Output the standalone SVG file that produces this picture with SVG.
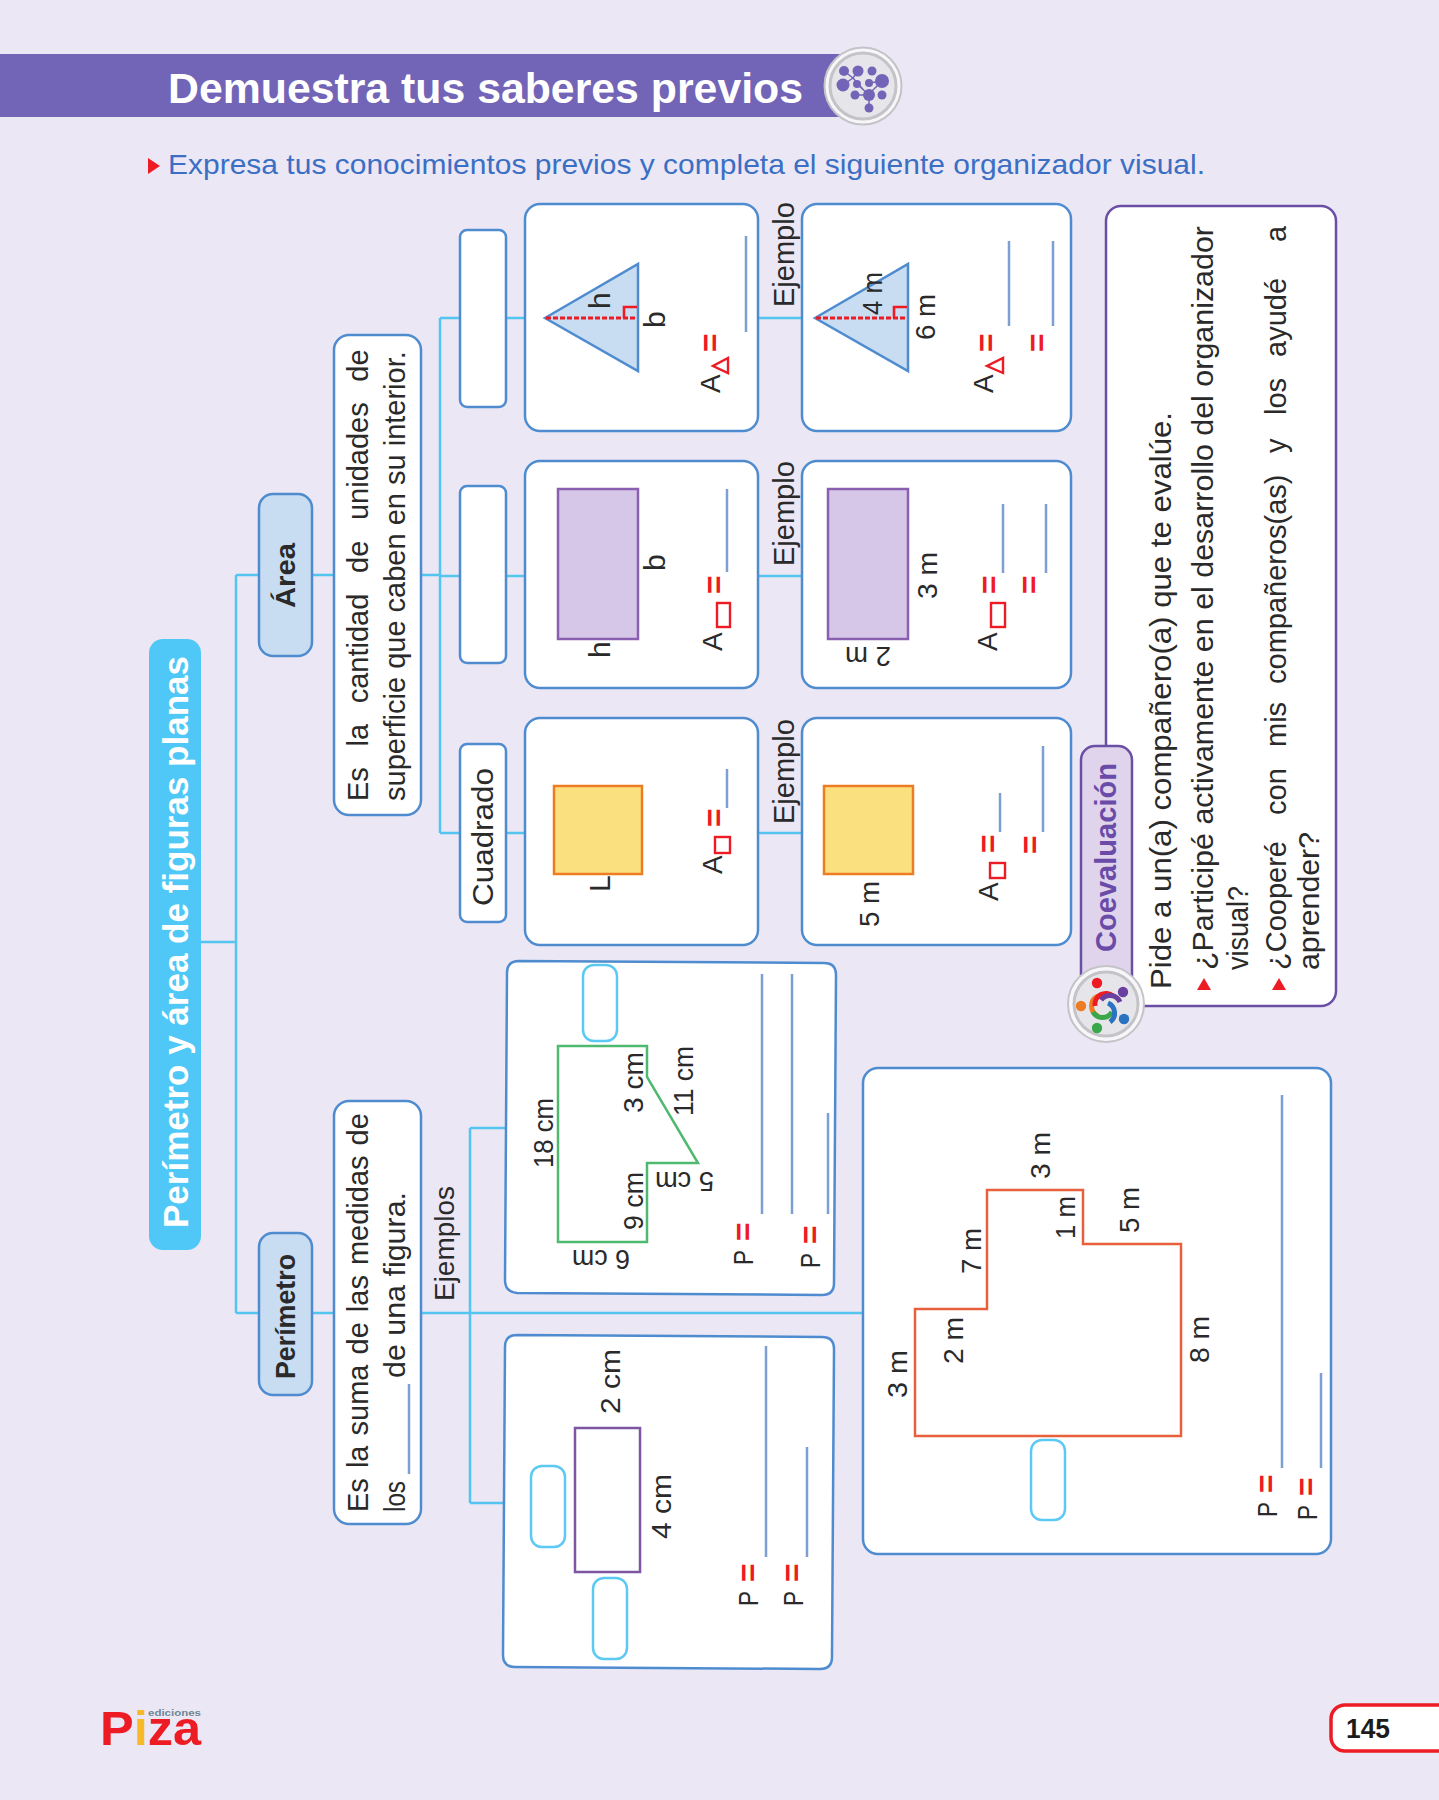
<svg xmlns="http://www.w3.org/2000/svg" width="1439" height="1800" viewBox="0 0 1439 1800">
<style>
text{font-family:"Liberation Sans",Arial,sans-serif;fill:#2a2a2a}
.b{font-size:29px}
.l{font-size:28px}
.v{font-size:30px}
.a{font-size:28px}
.eq{font-size:32px;font-weight:bold;fill:#ed1c24}
.box{fill:#fff;stroke:#4f8ccf;stroke-width:2.5}
.cy{fill:#fff;stroke:#5cc9f5;stroke-width:2.5}
.head{fill:#c9ddf2;stroke:#4f8ccf;stroke-width:2.5}
.con{fill:none;stroke:#54c4f0;stroke-width:2.5}
.bl{fill:none;stroke:#7e9fd1;stroke-width:2.5}
.rs{fill:#fff;stroke:#ed1c24;stroke-width:2.4}
.pu{stroke:#6a4fa5;stroke-width:2.5}
.ra{fill:none;stroke:#ed1c24;stroke-width:2.6}
.da{fill:none;stroke:#ed1c24;stroke-width:3;stroke-dasharray:5 2}
.tri{fill:#c9ddf2;stroke:#4f8ccf;stroke-width:2.5;stroke-linejoin:miter}
.rc{fill:#d6c7e8;stroke:#8b5fb0;stroke-width:2.5}
.sq{fill:#fbe07f;stroke:#ee7c22;stroke-width:2.5}
.ic{fill:#7464b8}
</style>
<rect width="1439" height="1800" fill="#ebe7f5"/>

<g id="header">
<rect x="0" y="54" width="850" height="63" fill="#7264b6"/>
<text x="168" y="103" font-size="43" font-weight="bold" textLength="635" lengthAdjust="spacingAndGlyphs" style="fill:#fff">Demuestra tus saberes previos</text>
<circle cx="863" cy="86" r="38.5" fill="#f7f7f9" stroke="#c4c4c8" stroke-width="2"/>
<circle cx="863" cy="86" r="33" fill="#e6e6ea" stroke="#c4c4c8" stroke-width="3"/>
<path d="M844 71L853 78L858 71M843 85L853 78L868 95L882 81M857 84L869 95V108M869 83L882 81M855 95L869 95" fill="none" stroke="#7464b8" stroke-width="1.5"/>
<g class="ic">
<circle cx="844" cy="71" r="5"/><circle cx="858" cy="71" r="5.5"/><circle cx="872" cy="71" r="4.5"/>
<circle cx="843" cy="85" r="6.5"/><circle cx="857" cy="84" r="4"/><circle cx="869" cy="83" r="4"/><circle cx="882" cy="81" r="7"/>
<circle cx="855" cy="95" r="4.5"/><circle cx="869" cy="95" r="6"/><circle cx="882" cy="95" r="4.5"/><circle cx="869" cy="108" r="4.5"/>
</g>
</g>

<g id="instruction">
<polygon points="148,158 160,166 148,174" fill="#ed1c24"/>
<text x="168" y="174" font-size="28" textLength="1037" lengthAdjust="spacingAndGlyphs" style="fill:#3a6fc4">Expresa tus conocimientos previos y completa el siguiente organizador visual.</text>
</g>

<g id="connectors">
<path class="con" d="M201 942H236M236 575V1313M236 575H259M312 575H334M421 575H440M440 318V833M440 318H460M506 318H525M758 318H802M440 576H460M506 576H525M758 576H802M440 833H460M506 833H525M758 833H802M236 1313H259M312 1313H334M421 1313H863M470 1128V1503M470 1128H506M470 1503H504"/>
</g>

<g id="main">
<rect x="149" y="639" width="52" height="611" rx="14" fill="#4fc8f7"/>
<text transform="translate(188,1228) rotate(-90)" font-size="35" font-weight="bold" textLength="572" lengthAdjust="spacingAndGlyphs" style="fill:#fff">Perímetro y área de figuras planas</text>
</g>

<g id="area">
<rect class="head" x="259" y="494" width="53" height="162" rx="14"/>
<text transform="translate(295,608) rotate(-90)" font-size="28" font-weight="bold" textLength="65" lengthAdjust="spacingAndGlyphs">Área</text>
</g>
<g id="area-def">
<rect class="box" x="334" y="335" width="87" height="480" rx="15"/>
<text class="b" transform="translate(368,801) rotate(-90)" word-spacing="12.6">Es la cantidad de unidades de</text>
<text class="b" transform="translate(405,801) rotate(-90)">superficie que caben en su interior.</text>
</g>

<g id="perimetro">
<rect class="head" x="259" y="1233" width="53" height="162" rx="14"/>
<text transform="translate(295,1379) rotate(-90)" font-size="27" font-weight="bold" textLength="125" lengthAdjust="spacingAndGlyphs">Perímetro</text>
</g>
<g id="perimetro-def">
<rect class="box" x="334" y="1101" width="87" height="423" rx="15"/>
<text class="b" transform="translate(368,1512) rotate(-90)" word-spacing="2">Es la suma de las medidas de</text>
<text class="b" transform="translate(405,1512) rotate(-90)" textLength="31" lengthAdjust="spacingAndGlyphs">los</text>
<path class="bl" d="M409 1474V1384"/>
<text class="b" transform="translate(405,1378) rotate(-90)" textLength="186" lengthAdjust="spacingAndGlyphs">de una figura.</text>
</g>
<g id="ejemplos-label">
<text transform="translate(454,1301) rotate(-90)" font-size="28" textLength="115" lengthAdjust="spacingAndGlyphs">Ejemplos</text>
</g>

<g id="tri-name"><rect class="box" x="460" y="230" width="46" height="177" rx="7"/></g>
<g id="rect-name"><rect class="box" x="460" y="486" width="46" height="177" rx="7"/></g>
<g id="sq-name"><rect class="box" x="460" y="744" width="46" height="178" rx="7"/>
<text transform="translate(493,906) rotate(-90)" font-size="30" textLength="138" lengthAdjust="spacingAndGlyphs">Cuadrado</text></g>

<g id="tri-formula">
<rect class="box" x="525" y="204" width="233" height="227" rx="15"/>
<polygon class="tri" points="545,318 638,264 638,371"/>
<path class="da" d="M546 318H637"/><path class="ra" d="M637 307H624V318"/>
<text class="v" transform="translate(610,309) rotate(-90)">h</text>
<text class="v" transform="translate(665,328) rotate(-90)">b</text>
<text class="a" transform="translate(720,393) rotate(-90)">A</text>
<polygon class="rs" points="728,358 728,373 713,366"/>
<text class="eq" transform="translate(721,352) rotate(-90)">=</text>
<path class="bl" d="M746 236V332"/>
</g>
<g id="tri-example">
<text class="b" transform="translate(794,307) rotate(-90)">Ejemplo</text>
<rect class="box" x="802" y="204" width="269" height="227" rx="15"/>
<polygon class="tri" points="815,318 908,264 908,371"/>
<path class="da" d="M816 318H907"/><path class="ra" d="M907 307H894V318"/>
<text class="l" transform="translate(882,315) rotate(-90)" textLength="43" lengthAdjust="spacingAndGlyphs">4 m</text>
<text class="l" transform="translate(935,340) rotate(-90)" textLength="46" lengthAdjust="spacingAndGlyphs">6 m</text>
<text class="a" transform="translate(993,393) rotate(-90)">A</text>
<polygon class="rs" points="1003,358 1003,373 987,366"/>
<text class="eq" transform="translate(997,352) rotate(-90)">=</text>
<text class="eq" transform="translate(1048,352) rotate(-90)">=</text>
<path class="bl" d="M1009 241V326M1053 241V326"/>
</g>

<g id="rect-formula">
<rect class="box" x="525" y="461" width="233" height="227" rx="15"/>
<rect class="rc" x="558" y="489" width="80" height="150"/>
<text class="v" transform="translate(665,571) rotate(-90)">b</text>
<text class="v" transform="translate(610,658) rotate(-90)">h</text>
<text class="a" transform="translate(722,651) rotate(-90)">A</text>
<rect class="rs" x="717" y="603" width="13" height="24"/>
<text class="eq" transform="translate(725,594) rotate(-90)">=</text>
<path class="bl" d="M727 489V572"/>
</g>
<g id="rect-example">
<text class="b" transform="translate(794,566) rotate(-90)">Ejemplo</text>
<rect class="box" x="802" y="461" width="269" height="227" rx="15"/>
<rect class="rc" x="828" y="489" width="80" height="150"/>
<text class="l" transform="translate(937,599) rotate(-90)" textLength="47" lengthAdjust="spacingAndGlyphs">3 m</text>
<text class="l" transform="translate(891,647) rotate(180)" textLength="46" lengthAdjust="spacingAndGlyphs">2 m</text>
<text class="a" transform="translate(997,651) rotate(-90)">A</text>
<rect class="rs" x="991" y="603" width="14" height="24"/>
<text class="eq" transform="translate(1000,594) rotate(-90)">=</text>
<text class="eq" transform="translate(1040,594) rotate(-90)">=</text>
<path class="bl" d="M1003 504V573M1046 504V573"/>
</g>

<g id="sq-formula">
<rect class="box" x="525" y="718" width="233" height="227" rx="15"/>
<rect class="sq" x="554" y="786" width="88" height="88"/>
<text class="v" transform="translate(610,892) rotate(-90)">L</text>
<text class="a" transform="translate(722,874) rotate(-90)">A</text>
<rect class="rs" x="715" y="837" width="15" height="16"/>
<text class="eq" transform="translate(725,827) rotate(-90)">=</text>
<path class="bl" d="M727 769V808"/>
</g>
<g id="sq-example">
<text class="b" transform="translate(794,824) rotate(-90)">Ejemplo</text>
<rect class="box" x="802" y="718" width="269" height="227" rx="15"/>
<rect class="sq" x="824" y="786" width="89" height="88"/>
<text class="l" transform="translate(879,927) rotate(-90)" textLength="46" lengthAdjust="spacingAndGlyphs">5 m</text>
<text class="a" transform="translate(998,901) rotate(-90)">A</text>
<rect class="rs" x="990" y="863" width="15" height="15"/>
<text class="eq" transform="translate(999,853) rotate(-90)">=</text>
<text class="eq" transform="translate(1041,854) rotate(-90)">=</text>
<path class="bl" d="M1000 793V832M1043 746V832"/>
</g>

<g id="example-polygon">
<path class="box" d="M519 961L824 963Q836 963 836 975L834 1283Q834 1295 822 1295L517 1293Q505 1292 505 1280L507 973Q507 961 519 961Z"/>
<rect class="cy" x="583" y="965" width="34" height="76" rx="11"/>
<polygon points="558,1046 647,1046 647,1077 698,1163 647,1163 647,1242 558,1242" fill="none" stroke="#4fb96f" stroke-width="2.5"/>
<text class="l" transform="translate(553,1168) rotate(-90)" textLength="70" lengthAdjust="spacingAndGlyphs">18 cm</text>
<text class="l" transform="translate(643,1113) rotate(-90)" textLength="61" lengthAdjust="spacingAndGlyphs">3 cm</text>
<text class="l" transform="translate(693,1116) rotate(-90)" textLength="70" lengthAdjust="spacingAndGlyphs">11 cm</text>
<text class="l" transform="translate(643,1230) rotate(-90)" textLength="58" lengthAdjust="spacingAndGlyphs">9 cm</text>
<text class="l" transform="translate(630,1250) rotate(180)" textLength="58" lengthAdjust="spacingAndGlyphs">6 cm</text>
<text class="l" transform="translate(714,1172) rotate(180)" textLength="59" lengthAdjust="spacingAndGlyphs">5 cm</text>
<path class="bl" d="M762 974V1214M792 974V1214M828 1113V1214"/>
<text class="a" transform="translate(753,1265) rotate(-90)" textLength="15" lengthAdjust="spacingAndGlyphs">P</text>
<text class="eq" transform="translate(754,1241) rotate(-90)">=</text>
<text class="a" transform="translate(820,1268) rotate(-90)" textLength="15" lengthAdjust="spacingAndGlyphs">P</text>
<text class="eq" transform="translate(821,1244) rotate(-90)">=</text>
</g>

<g id="example-rect">
<path class="box" d="M517 1335L822 1337Q834 1337 834 1349L832 1657Q832 1669 820 1669L515 1667Q503 1667 503 1655L505 1347Q505 1335 517 1335Z"/>
<rect class="cy" x="531" y="1466" width="34" height="81" rx="11"/>
<rect class="cy" x="593" y="1578" width="34" height="81" rx="11"/>
<rect x="575" y="1428" width="65" height="144" fill="none" stroke="#7e55a5" stroke-width="2.5"/>
<text class="l" transform="translate(620,1414) rotate(-90)" textLength="65" lengthAdjust="spacingAndGlyphs">2 cm</text>
<text class="l" transform="translate(671,1539) rotate(-90)" textLength="65" lengthAdjust="spacingAndGlyphs">4 cm</text>
<path class="bl" d="M766 1346V1557M807 1447V1557"/>
<text class="a" transform="translate(758,1606) rotate(-90)" textLength="15" lengthAdjust="spacingAndGlyphs">P</text>
<text class="eq" transform="translate(759,1582) rotate(-90)">=</text>
<text class="a" transform="translate(803,1606) rotate(-90)" textLength="15" lengthAdjust="spacingAndGlyphs">P</text>
<text class="eq" transform="translate(803,1582) rotate(-90)">=</text>
</g>

<g id="example-big">
<rect class="box" x="863" y="1068" width="468" height="486" rx="15"/>
<rect class="cy" x="1031" y="1440" width="34" height="80" rx="11"/>
<polygon points="915,1309 987,1309 987,1190 1083,1190 1083,1244 1181,1244 1181,1436 915,1436" fill="none" stroke="#e8603c" stroke-width="2.5"/>
<text class="l" transform="translate(1050,1179) rotate(-90)" textLength="47" lengthAdjust="spacingAndGlyphs">3 m</text>
<text class="l" transform="translate(1139,1233) rotate(-90)" textLength="46" lengthAdjust="spacingAndGlyphs">5 m</text>
<text class="l" transform="translate(1075,1239) rotate(-90)" textLength="43" lengthAdjust="spacingAndGlyphs">1 m</text>
<text class="l" transform="translate(981,1274) rotate(-90)" textLength="46" lengthAdjust="spacingAndGlyphs">7 m</text>
<text class="l" transform="translate(963,1364) rotate(-90)" textLength="47" lengthAdjust="spacingAndGlyphs">2 m</text>
<text class="l" transform="translate(907,1398) rotate(-90)" textLength="48" lengthAdjust="spacingAndGlyphs">3 m</text>
<text class="l" transform="translate(1209,1363) rotate(-90)" textLength="47" lengthAdjust="spacingAndGlyphs">8 m</text>
<path class="bl" d="M1282 1095V1468M1321 1373V1468"/>
<text class="a" transform="translate(1277,1517) rotate(-90)" textLength="15" lengthAdjust="spacingAndGlyphs">P</text>
<text class="eq" transform="translate(1277,1493) rotate(-90)">=</text>
<text class="a" transform="translate(1317,1520) rotate(-90)" textLength="15" lengthAdjust="spacingAndGlyphs">P</text>
<text class="eq" transform="translate(1317,1496) rotate(-90)">=</text>
</g>

<g id="coevaluacion">
<rect class="pu" x="1106" y="206" width="230" height="800" rx="15" fill="#fff"/>
<rect class="pu" x="1081" y="746" width="51" height="250" rx="14" fill="#e0d4ec"/>
<text transform="translate(1116,952) rotate(-90)" font-size="29" font-weight="bold" textLength="189" lengthAdjust="spacingAndGlyphs" style="fill:#6a4ba8">Coevaluación</text>
<text class="b" transform="translate(1171,989) rotate(-90)" textLength="577" lengthAdjust="spacingAndGlyphs">Pide a un(a) compañero(a) que te evalúe.</text>
<polygon points="1197,990 1211,990 1204,978" fill="#ed1c24"/>
<text class="b" transform="translate(1213,970) rotate(-90)" textLength="744" lengthAdjust="spacingAndGlyphs">¿Participé activamente en el desarrollo del organizador</text>
<text class="b" transform="translate(1248,970) rotate(-90)" textLength="84" lengthAdjust="spacingAndGlyphs">visual?</text>
<polygon points="1272,990 1286,990 1279,978" fill="#ed1c24"/>
<text class="b" transform="translate(1286,970) rotate(-90)"><tspan x="0">¿Cooperé</tspan><tspan x="155">con</tspan><tspan x="223">mis</tspan><tspan x="286">compañeros(as)</tspan><tspan x="517">y</tspan><tspan x="555">los</tspan><tspan x="613">ayudé</tspan><tspan x="728">a</tspan></text>
<text class="b" transform="translate(1319,970) rotate(-90)" textLength="138" lengthAdjust="spacingAndGlyphs">aprender?</text>
<circle cx="1106" cy="1004" r="38" fill="#f7f7f9" stroke="#c4c4c8" stroke-width="2"/>
<circle cx="1106" cy="1004" r="32" fill="#e6e6ea" stroke="#c4c4c8" stroke-width="3"/>
<g fill="none" stroke-width="5">
<path d="M1098 1016A11 11 0 0 1 1098 996" stroke="#ee7c22"/>
<path d="M1112 1012A11 11 0 0 1 1093 1012" stroke="#3aa84a"/>
<path d="M1108 1003A11 11 0 0 1 1110 1022" stroke="#2b72c0"/>
<path d="M1095 1006A11 11 0 0 1 1113 996" stroke="#ed1c24"/>
<path d="M1101 1000A11 11 0 0 1 1120 1002" stroke="#6a3fa0"/>
</g>
<circle cx="1097" cy="983" r="5.2" fill="#ed1c24"/>
<circle cx="1123" cy="992" r="5.2" fill="#6a3fa0"/>
<circle cx="1081" cy="1006" r="5.2" fill="#ee7c22"/>
<circle cx="1124" cy="1019" r="5.2" fill="#2b72c0"/>
<circle cx="1097" cy="1028" r="5.2" fill="#3aa84a"/>
</g>

<g id="logo">
<text x="100" y="1745" font-size="48" font-weight="bold" textLength="101" lengthAdjust="spacingAndGlyphs" style="fill:#ed1c24">P<tspan style="fill:#f7b928">i</tspan>za</text>
<text x="148" y="1716" font-size="9" font-weight="bold" textLength="53" lengthAdjust="spacingAndGlyphs" style="fill:#6f8794">ediciones</text>
</g>

<g id="page-number">
<rect x="1331" y="1705" width="130" height="46" rx="14" fill="#fff" stroke="#ed1c24" stroke-width="3.5"/>
<text x="1346" y="1738" font-size="27" font-weight="bold" textLength="44" lengthAdjust="spacingAndGlyphs" style="fill:#1c1c1c">145</text>
</g>
</svg>
